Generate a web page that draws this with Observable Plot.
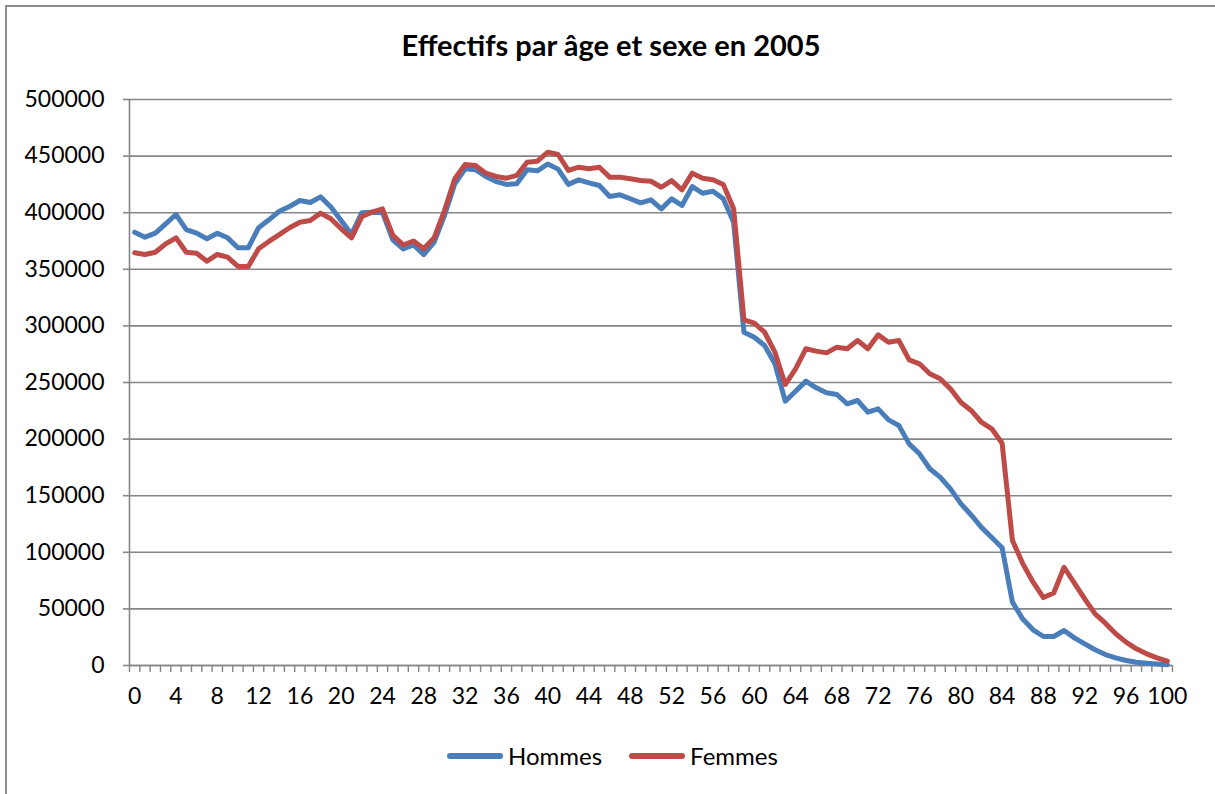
<!DOCTYPE html>
<html>
<head>
<meta charset="utf-8">
<script src="https://cdn.jsdelivr.net/npm/d3@7"></script>
<script src="https://cdn.jsdelivr.net/npm/@observablehq/plot@0.6"></script>
<style>
  html, body { margin: 0; padding: 0; background: white; }
  #wrap { position: relative; width: 1215px; height: 794px; overflow: hidden; font-family: Lato, sans-serif; }
  #chart { position: absolute; left: 0; top: 0; }
  #border { position: absolute; left: 5px; top: 5px; right: -10px; bottom: -10px; border-left: 2px solid #8c8c8c; border-top: 2px solid #8c8c8c; pointer-events: none; }
  #title { position: absolute; left: 6px; width: 1210px; top: 27px; text-align: center; font-weight: bold; font-size: 29px; color: #000; }
  #legend { position: absolute; left: 447px; top: 741px; display: flex; align-items: center; font-size: 24px; color: #000; }
  .sw { display: inline-block; width: 56px; height: 6px; border-radius: 3px; margin-right: 5px; }
</style>
</head>
<body>
<div id="wrap">
  <div id="chart"></div>
  <div id="title">Effectifs par âge et sexe en 2005</div>
  <div id="legend">
    <span class="sw" style="background:#4A7EBB"></span><span>Hommes</span>
    <span class="sw" style="background:#BE4B48; margin-left:27px"></span><span>Femmes</span>
  </div>
  <div id="border"></div>
</div>
<script>
const ages = d3.range(0, 101);
const hommes = [
  382800, 378400, 381900, 390200, 398400, 385000, 382000, 377000, 381900, 377800,
  369000, 369000, 386700, 393700, 401300, 405500, 410800, 409000, 414000, 405000,
  393000, 381000, 400000, 400500, 400000, 376000, 368000, 371500, 363000, 374000,
  397500, 425500, 438800, 438000, 432000, 427500, 425000, 425500, 437900, 437000,
  443000, 438500, 425000, 429000, 426400, 424000, 414300, 415800, 412300, 408700,
  411400, 403400, 412300, 406400, 423100, 417200, 419000, 412300, 391600, 294400,
  290000, 282700, 266500, 233500, 242300, 251200, 245300, 240900, 239400, 231200,
  234100, 223800, 226700, 217000, 212000, 195800, 187000, 173800, 166400, 156000,
  143000, 133000, 122000, 113000, 104000, 56000, 41000, 31500, 25600, 25600,
  30900, 24400, 19100, 13900, 9700, 6800, 4400, 2900, 2000, 1300,
  700
];
const femmes = [
  364600, 363100, 365100, 372500, 377800, 365100, 364200, 357200, 363100, 360700,
  352500, 352500, 368100, 374600, 380700, 386700, 391600, 393100, 399600, 394600,
  385800, 377800, 396600, 400500, 403400, 379900, 371500, 375000, 368100, 377800,
  401900, 430000, 442600, 441700, 434900, 432000, 430500, 432900, 444600, 445500,
  453500, 451400, 437300, 440200, 438800, 440200, 431400, 431400, 430000, 428400,
  427800, 422500, 428400, 420200, 434900, 430500, 429100, 424900, 403400, 305400,
  302400, 294400, 276800, 248200, 262100, 279800, 277700, 276200, 281200, 279800,
  287100, 279800, 292100, 285600, 287100, 270000, 266500, 257700, 253300, 244400,
  232600, 225300, 214900, 209100, 196400, 110400, 90000, 73600, 60000, 64000,
  86800, 72700, 58900, 45600, 37400, 28000, 20600, 14700, 10300, 6800,
  3800
];
const yTicks = [0, 50000, 100000, 150000, 200000, 250000, 300000, 350000, 400000, 450000, 500000];
const xTickLabels = [0, 4, 8, 12, 16, 20, 24, 28, 32, 36, 40, 44, 48, 52, 56, 60, 64, 68, 72, 76, 80, 84, 88, 92, 96, 100];
const xBoundaries = d3.range(0, 102).map(k => k - 0.5);

const gray = "#868686";
const chart = Plot.plot({
  width: 1215,
  height: 794,
  marginLeft: 129,
  marginRight: 43,
  marginTop: 99,
  marginBottom: 129,
  x: { type: "linear", domain: [-0.5, 100.5], label: null },
  y: { domain: [0, 500000], label: null },
  style: { fontFamily: "Lato, sans-serif", fontSize: "23px", color: "black", background: "transparent" },
  marks: [
    Plot.gridY(yTicks, { stroke: gray, strokeOpacity: 1, strokeWidth: 1.6 }),
    Plot.axisY(yTicks, { tickSize: 6, tickPadding: 19, stroke: gray, strokeWidth: 1.6, fill: "black", tickFormat: d => String(d), label: null, fontSize: 23 }),
    Plot.axisX(xBoundaries, { tickSize: 7, stroke: gray, strokeWidth: 1.4, tickFormat: () => "", label: null }),
    Plot.axisX(xTickLabels, { tickSize: 0, tickPadding: 22, fill: "black", tickFormat: d => String(d), label: null, fontSize: 23 }),
    Plot.ruleX([-0.5], { stroke: gray, strokeWidth: 1.6 }),
    Plot.ruleY([0], { stroke: gray, strokeWidth: 1.6 }),
    Plot.line(ages, { x: d => d, y: (d, i) => hommes[i], stroke: "#4A7EBB", strokeWidth: 5, strokeLinejoin: "round", strokeLinecap: "round" }),
    Plot.line(ages, { x: d => d, y: (d, i) => femmes[i], stroke: "#BE4B48", strokeWidth: 5, strokeLinejoin: "round", strokeLinecap: "round" })
  ]
});
document.getElementById("chart").appendChild(chart);
</script>
</body>
</html>
